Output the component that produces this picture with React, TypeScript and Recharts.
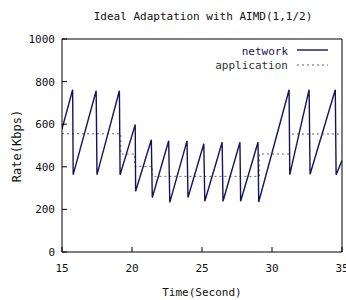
import React from "react";
import { LineChart, Line, XAxis, YAxis } from "recharts";

const networkX = [15, 15.76, 15.8, 17.44, 17.5, 19.1, 19.15, 20.23, 20.26, 21.38, 21.45, 22.62, 22.7, 23.93, 24.0, 25.13, 25.2, 26.44, 26.5, 27.71, 27.76, 29.0, 29.05, 31.22, 31.27, 32.65, 32.72, 34.52, 34.58, 35];
const networkY = [578, 762, 363, 757, 363, 757, 363, 598, 285, 527, 256, 522, 233, 522, 256, 508, 238, 515, 238, 515, 238, 515, 235, 762, 363, 762, 365, 762, 363, 430];

const appX = [15, 19.2, 20.2, 21.45, 29.1, 31.25, 35];
const appY = [555, 460, 402, 355, 460, 554, 554];

const xTicks = [15, 20, 25, 30, 35];
const yTicks = [0, 200, 400, 600, 800, 1000];

const networkData = networkX.map((x, i) => ({ x, v: networkY[i] }));
const appData = appX.map((x, i) => ({ x, v: appY[i] }));

const FONT = "'DejaVu Sans Mono', monospace";
const NAVY = "#14145e";
const tickStyle = { fontFamily: FONT, fontSize: 11, fill: "#111" };

export default function App() {
  return (
    <div style={{ position: "absolute", left: 0, top: 0, width: 346, height: 300, background: "#fff" }}>
      <LineChart width={346} height={300} data={networkData} margin={{ top: 38, right: 3, left: 0, bottom: 0 }}>
        <XAxis
          dataKey="x"
          type="number"
          domain={[15, 35]}
          ticks={xTicks}
          allowDataOverflow
          height={48}
          tickSize={-5}
          tickMargin={17}
          stroke="#000"
          tick={tickStyle}
          interval={0}
          label={{
            content: (p: any) => (
              <text x={202} y={296} textAnchor="middle" fontFamily={FONT} fontSize={11} fill="#111">
                Time(Second)
              </text>
            ),
          }}
        />
        <XAxis
          xAxisId="t"
          orientation="top"
          dataKey="x"
          type="number"
          domain={[15, 35]}
          ticks={xTicks}
          allowDataOverflow
          height={1}
          tickSize={-5}
          tick={false}
          stroke="#000"
        />
        <YAxis
          type="number"
          domain={[0, 1000]}
          ticks={yTicks}
          width={62}
          tickSize={-5}
          tickMargin={12}
          stroke="#000"
          tick={tickStyle}
          interval={0}
          label={{
            content: (p: any) => (
              <text
                x={21}
                y={146}
                transform="rotate(-90, 21, 146)"
                textAnchor="middle"
                fontFamily={FONT}
                fontSize={12}
                fill="#111"
              >
                Rate(Kbps)
              </text>
            ),
          }}
        />
        <YAxis
          yAxisId="r"
          orientation="right"
          type="number"
          domain={[0, 1000]}
          ticks={yTicks}
          width={1}
          tickSize={-5}
          tick={false}
          stroke="#000"
        />
        <Line
          data={appData}
          dataKey="v"
          type="stepAfter"
          stroke="#666"
          strokeWidth={1}
          strokeDasharray="2 3"
          dot={false}
          isAnimationActive={false}
        />
        <Line
          data={networkData}
          dataKey="v"
          type="linear"
          stroke={NAVY}
          strokeWidth={1.4}
          dot={false}
          isAnimationActive={false}
        />
      </LineChart>
      <svg width={346} height={300} style={{ position: "absolute", left: 0, top: 0, pointerEvents: "none" }}>
        <text x={203} y={20} textAnchor="middle" fontFamily={FONT} fontSize={11} fill="#111">
          Ideal Adaptation with AIMD(1,1/2)
        </text>
        <text x={288} y={55} textAnchor="end" fontFamily={FONT} fontSize={11} fill={NAVY}>
          network
        </text>
        <line x1={297} y1={50} x2={328} y2={50} stroke={NAVY} strokeWidth={1.4} />
        <text x={288} y={69} textAnchor="end" fontFamily={FONT} fontSize={11} fill="#333">
          application
        </text>
        <line x1={297} y1={65} x2={328} y2={65} stroke="#666" strokeWidth={1} strokeDasharray="2 3" />
      </svg>
    </div>
  );
}
